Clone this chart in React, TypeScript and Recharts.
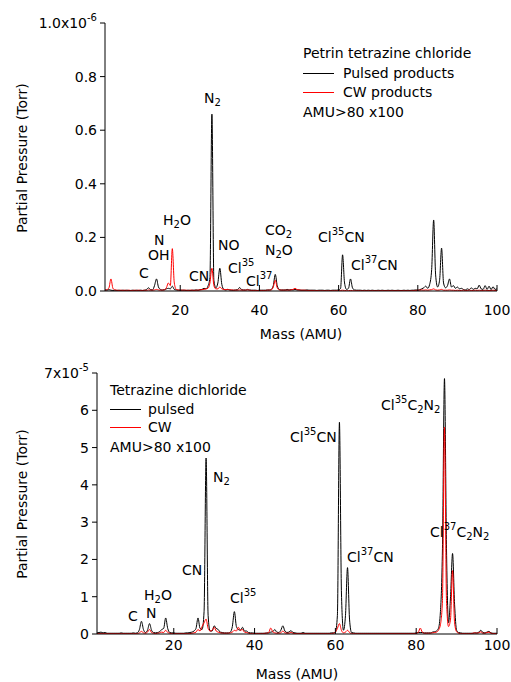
import React from "react";
import { Line, LineChart, XAxis, YAxis } from "recharts";

// mass grid, 0.5 AMU steps
const masses = [
  1, 1.5, 2, 2.5, 3, 3.5, 4, 4.5, 5, 5.5,
  6, 6.5, 7, 7.5, 8, 8.5, 9, 9.5, 10, 10.5,
  11, 11.5, 12, 12.5, 13, 13.5, 14, 14.5, 15, 15.5,
  16, 16.5, 17, 17.5, 18, 18.5, 19, 19.5, 20, 20.5,
  21, 21.5, 22, 22.5, 23, 23.5, 24, 24.5, 25, 25.5,
  26, 26.5, 27, 27.5, 28, 28.5, 29, 29.5, 30, 30.5,
  31, 31.5, 32, 32.5, 33, 33.5, 34, 34.5, 35, 35.5,
  36, 36.5, 37, 37.5, 38, 38.5, 39, 39.5, 40, 40.5,
  41, 41.5, 42, 42.5, 43, 43.5, 44, 44.5, 45, 45.5,
  46, 46.5, 47, 47.5, 48, 48.5, 49, 49.5, 50, 50.5,
  51, 51.5, 52, 52.5, 53, 53.5, 54, 54.5, 55, 55.5,
  56, 56.5, 57, 57.5, 58, 58.5, 59, 59.5, 60, 60.5,
  61, 61.5, 62, 62.5, 63, 63.5, 64, 64.5, 65, 65.5,
  66, 66.5, 67, 67.5, 68, 68.5, 69, 69.5, 70, 70.5,
  71, 71.5, 72, 72.5, 73, 73.5, 74, 74.5, 75, 75.5,
  76, 76.5, 77, 77.5, 78, 78.5, 79, 79.5, 80, 80.5,
  81, 81.5, 82, 82.5, 83, 83.5, 84, 84.5, 85, 85.5,
  86, 86.5, 87, 87.5, 88, 88.5, 89, 89.5, 90, 90.5,
  91, 91.5, 92, 92.5, 93, 93.5, 94, 94.5, 95, 95.5,
  96, 96.5, 97, 97.5, 98, 98.5, 99, 99.5, 100,
];

// Petrin tetrazine chloride, units of 1e-6 Torr
const petrinPulsed = [
  0.004, 0.003, 0.005, 0.003, 0.002, 0.003, 0.002, 0.003, 0.002, 0.003,
  0.002, 0.003, 0.002, 0.002, 0.003, 0.002, 0.003, 0.002, 0.003, 0.002,
  0.003, 0.006, 0.012, 0.005, 0.004, 0.02, 0.045, 0.015, 0.006, 0.004,
  0.005, 0.008, 0.01, 0.008, 0.018, 0.006, 0.004, 0.003, 0.003, 0.003,
  0.003, 0.002, 0.003, 0.002, 0.003, 0.003, 0.004, 0.003, 0.005, 0.006,
  0.01, 0.008, 0.018, 0.05, 0.66, 0.04, 0.012, 0.03, 0.085, 0.025,
  0.006, 0.004, 0.006, 0.004, 0.003, 0.003, 0.004, 0.005, 0.013, 0.005,
  0.004, 0.004, 0.006, 0.004, 0.003, 0.003, 0.003, 0.002, 0.003, 0.003,
  0.003, 0.003, 0.004, 0.004, 0.006, 0.02, 0.062, 0.02, 0.006, 0.004,
  0.004, 0.004, 0.006, 0.004, 0.005, 0.004, 0.006, 0.004, 0.004, 0.003,
  0.003, 0.003, 0.004, 0.003, 0.003, 0.003, 0.003, 0.002, 0.003, 0.003,
  0.003, 0.002, 0.003, 0.003, 0.002, 0.003, 0.003, 0.003, 0.004, 0.01,
  0.135, 0.03, 0.006, 0.01, 0.045, 0.012, 0.004, 0.003, 0.003, 0.003,
  0.002, 0.003, 0.002, 0.003, 0.002, 0.003, 0.002, 0.002, 0.003, 0.002,
  0.003, 0.002, 0.002, 0.003, 0.002, 0.003, 0.002, 0.002, 0.003, 0.002,
  0.002, 0.003, 0.002, 0.003, 0.002, 0.003, 0.003, 0.004, 0.003, 0.005,
  0.008, 0.012, 0.018, 0.01, 0.025, 0.08, 0.265, 0.06, 0.015, 0.04,
  0.16, 0.03, 0.012, 0.02, 0.045, 0.015, 0.02, 0.01, 0.015, 0.008,
  0.01, 0.006, 0.004, 0.008, 0.005, 0.012, 0.006, 0.01, 0.008, 0.022,
  0.008, 0.006, 0.02, 0.006, 0.018, 0.005, 0.016, 0.006, 0.008,
];

const petrinCw = [
  0.003, 0.005, 0.012, 0.045, 0.01, 0.004, 0.003, 0.002, 0.003, 0.002,
  0.003, 0.002, 0.003, 0.002, 0.002, 0.003, 0.002, 0.003, 0.002, 0.002,
  0.003, 0.002, 0.004, 0.003, 0.003, 0.004, 0.006, 0.004, 0.003, 0.003,
  0.004, 0.012, 0.03, 0.02, 0.158, 0.03, 0.006, 0.004, 0.003, 0.003,
  0.003, 0.003, 0.002, 0.003, 0.003, 0.002, 0.003, 0.003, 0.004, 0.005,
  0.006, 0.008, 0.01, 0.03, 0.085, 0.02, 0.008, 0.008, 0.015, 0.008,
  0.006, 0.005, 0.006, 0.004, 0.004, 0.003, 0.003, 0.003, 0.004, 0.003,
  0.003, 0.003, 0.004, 0.003, 0.002, 0.002, 0.002, 0.002, 0.002, 0.002,
  0.002, 0.002, 0.003, 0.003, 0.004, 0.015, 0.04, 0.012, 0.004, 0.003,
  0.003, 0.003, 0.003, 0.003, 0.004, 0.006, 0.01, 0.005, 0.004, 0.003,
  0.003, 0.003, 0.002, 0.002, 0.002, 0.002, 0.001, 0.002, 0.001, 0.001,
  0.001, 0.001, 0.001, 0.001, 0.001, 0.001, 0.001, 0.001, 0.001, 0.002,
  0.003, 0.002, 0.001, 0.001, 0.002, 0.001, 0.001, 0.001, 0.001, 0.001,
  0.001, 0.001, 0.001, 0.001, 0.001, 0.001, 0.001, 0.001, 0.001, 0.001,
  0.001, 0.001, 0.001, 0.001, 0.001, 0.001, 0.001, 0.001, 0.001, 0.001,
  0.001, 0.001, 0.001, 0.001, 0.001, 0.001, 0.002, 0.002, 0.003, 0.003,
  0.004, 0.003, 0.004, 0.003, 0.004, 0.005, 0.008, 0.004, 0.003, 0.004,
  0.006, 0.003, 0.003, 0.003, 0.004, 0.003, 0.003, 0.002, 0.003, 0.002,
  0.002, 0.003, 0.002, 0.002, 0.003, 0.002, 0.002, 0.003, 0.002, 0.003,
  0.002, 0.002, 0.003, 0.002, 0.002, 0.002, 0.003, 0.002, 0.002,
];

// Tetrazine dichloride, units of 1e-5 Torr
const dichloridePulsed = [
  0.03, 0.04, 0.05, 0.03, 0.04, 0.02, 0.02, 0.02, 0.02, 0.02,
  0.02, 0.02, 0.03, 0.02, 0.02, 0.02, 0.02, 0.02, 0.03, 0.02,
  0.03, 0.12, 0.34, 0.12, 0.04, 0.1, 0.28, 0.1, 0.04, 0.03,
  0.04, 0.06, 0.12, 0.15, 0.43, 0.15, 0.04, 0.03, 0.03, 0.02,
  0.02, 0.02, 0.02, 0.02, 0.03, 0.03, 0.04, 0.05, 0.08, 0.15,
  0.43, 0.15, 0.12, 0.6, 4.72, 0.5, 0.08, 0.08, 0.22, 0.15,
  0.12, 0.05, 0.04, 0.03, 0.03, 0.03, 0.05, 0.2, 0.6, 0.2,
  0.12, 0.1, 0.18, 0.08, 0.08, 0.04, 0.03, 0.03, 0.02, 0.02,
  0.02, 0.02, 0.02, 0.02, 0.03, 0.03, 0.05, 0.06, 0.12, 0.05,
  0.04, 0.1, 0.22, 0.08, 0.04, 0.05, 0.09, 0.04, 0.03, 0.02,
  0.02, 0.02, 0.04, 0.02, 0.02, 0.02, 0.02, 0.02, 0.02, 0.02,
  0.02, 0.02, 0.02, 0.02, 0.02, 0.02, 0.03, 0.03, 0.05, 0.5,
  5.68, 1.1, 0.1, 0.5, 1.78, 0.4, 0.04, 0.03, 0.02, 0.02,
  0.02, 0.02, 0.02, 0.02, 0.02, 0.02, 0.02, 0.02, 0.02, 0.02,
  0.02, 0.02, 0.02, 0.02, 0.02, 0.02, 0.02, 0.02, 0.02, 0.02,
  0.02, 0.02, 0.02, 0.02, 0.02, 0.02, 0.02, 0.02, 0.03, 0.04,
  0.04, 0.04, 0.03, 0.03, 0.03, 0.03, 0.05, 0.06, 0.08, 0.15,
  0.6, 2.3, 6.85, 2.3, 0.3, 1.0, 2.16, 0.8, 0.1, 0.04,
  0.03, 0.02, 0.02, 0.02, 0.02, 0.02, 0.02, 0.03, 0.03, 0.05,
  0.1, 0.04, 0.03, 0.05, 0.07, 0.03, 0.02, 0.02, 0.02,
];

const dichlorideCw = [
  0.01, 0.01, 0.01, 0.01, 0.01, 0.01, 0.01, 0.01, 0.01, 0.01,
  0.01, 0.01, 0.01, 0.01, 0.01, 0.01, 0.01, 0.01, 0.01, 0.01,
  0.01, 0.03, 0.07, 0.03, 0.02, 0.05, 0.12, 0.04, 0.02, 0.01,
  0.02, 0.03, 0.05, 0.04, 0.1, 0.04, 0.02, 0.01, 0.01, 0.01,
  0.01, 0.01, 0.01, 0.01, 0.01, 0.01, 0.01, 0.02, 0.03, 0.05,
  0.12, 0.08, 0.2, 0.3, 0.4, 0.15, 0.08, 0.1, 0.18, 0.08,
  0.05, 0.03, 0.02, 0.02, 0.02, 0.02, 0.03, 0.05, 0.1, 0.08,
  0.18, 0.1, 0.12, 0.05, 0.04, 0.02, 0.01, 0.01, 0.01, 0.01,
  0.01, 0.01, 0.01, 0.02, 0.02, 0.04, 0.16, 0.06, 0.03, 0.02,
  0.02, 0.03, 0.08, 0.03, 0.02, 0.02, 0.04, 0.02, 0.01, 0.01,
  0.01, 0.01, 0.01, 0.01, 0.01, 0.01, 0.01, 0.01, 0.01, 0.01,
  0.01, 0.01, 0.01, 0.01, 0.01, 0.01, 0.01, 0.02, 0.05, 0.15,
  0.28, 0.1, 0.03, 0.05, 0.1, 0.04, 0.01, 0.01, 0.01, 0.01,
  0.01, 0.01, 0.01, 0.01, 0.01, 0.01, 0.01, 0.01, 0.01, 0.01,
  0.01, 0.01, 0.01, 0.01, 0.01, 0.01, 0.01, 0.01, 0.01, 0.01,
  0.01, 0.01, 0.01, 0.01, 0.01, 0.01, 0.01, 0.01, 0.02, 0.04,
  0.16, 0.05, 0.02, 0.02, 0.02, 0.02, 0.03, 0.04, 0.05, 0.1,
  0.25, 0.9, 5.55, 0.9, 0.2, 0.4, 1.7, 0.3, 0.06, 0.02,
  0.01, 0.01, 0.01, 0.01, 0.01, 0.01, 0.02, 0.03, 0.02, 0.03,
  0.06, 0.02, 0.02, 0.04, 0.05, 0.02, 0.01, 0.01, 0.01,
];

const massTicks = [20, 40, 60, 80, 100];
const petrinTicks = [0, 0.2, 0.4, 0.6, 0.8, 1.0];
const dichlorideTicks = [0, 1, 2, 3, 4, 5, 6, 7];

const FONT = "'DejaVu Sans', Verdana, sans-serif";

const toRows = (pulsed: number[], cw: number[]) =>
  masses.map((m, i) => ({ m, pulsed: pulsed[i], cw: cw[i] }));

const YTick = ({ x, y, payload, fmt }: any) => {
  const [base, exp] = fmt(payload.value);
  return (
    <text x={x} y={y} dy={5} textAnchor="end" fontSize={14} fill="#000">
      {base}
      {exp && (
        <tspan dy={-7} fontSize={10}>
          {exp}
        </tspan>
      )}
    </text>
  );
};

const Sub = ({ children }: any) => (
  <span style={{ fontSize: 10, position: "relative", top: 3 }}>{children}</span>
);
const Sup = ({ children }: any) => (
  <span style={{ fontSize: 10, position: "relative", top: -7 }}>{children}</span>
);

const Txt = ({ x, y, children }: any) => (
  <div style={{ position: "absolute", left: x, top: y - 8, fontSize: 14, lineHeight: "16px", whiteSpace: "nowrap" }}>
    {children}
  </div>
);

const Key = ({ x, y, color }: any) => (
  <div style={{ position: "absolute", left: x, top: y, width: 31, height: 1, background: color }} />
);

function Spectrum({ top, height, data, yDomain, yTicks, fmt, marginTop, yWidth, xHeight, xTickMargin }: any) {
  return (
    <div style={{ position: "absolute", left: 0, top }}>
      <LineChart
        width={511}
        height={height}
        data={data}
        margin={{ top: marginTop, right: 14, bottom: 0, left: 0 }}
      >
        <XAxis
          dataKey="m"
          type="number"
          domain={[1, 100]}
          ticks={massTicks}
          allowDataOverflow
          height={xHeight}
          stroke="#000"
          tickSize={-6}
          tickMargin={xTickMargin}
          tick={{ fill: "#000", fontSize: 14 }}
        />
        <XAxis
          xAxisId="top"
          orientation="top"
          type="number"
          domain={[1, 100]}
          ticks={massTicks}
          allowDataOverflow
          height={0}
          stroke="#000"
          tickSize={4}
          tick={false}
        />
        <YAxis
          type="number"
          domain={yDomain}
          ticks={yTicks}
          allowDataOverflow
          width={yWidth}
          stroke="#000"
          tickSize={5}
          tickMargin={3}
          tick={(p: any) => <YTick {...p} fmt={fmt} />}
        />
        <YAxis
          yAxisId="right"
          orientation="right"
          type="number"
          domain={yDomain}
          ticks={yTicks}
          allowDataOverflow
          width={0}
          stroke="#000"
          tickSize={-7}
          tick={false}
        />
        <Line type="monotone" dataKey="pulsed" stroke="#000" strokeWidth={1} dot={false} isAnimationActive={false} />
        <Line type="monotone" dataKey="cw" stroke="#ff0000" strokeWidth={1} dot={false} isAnimationActive={false} />
      </LineChart>
    </div>
  );
}

const yLabelStyle = (cy: number): React.CSSProperties => ({
  position: "absolute",
  left: 22,
  top: cy,
  fontSize: 14,
  whiteSpace: "nowrap",
  transform: "translate(-50%, -50%) rotate(-90deg)",
});

export default function App() {
  return (
    <div
      style={{
        position: "absolute",
        left: 0,
        top: 0,
        width: 511,
        height: 682,
        background: "#fff",
        fontFamily: FONT,
        color: "#000",
        overflow: "hidden",
      }}
    >
      <Spectrum
        top={0}
        height={340}
        data={toRows(petrinPulsed, petrinCw)}
        yDomain={[0, 1]}
        yTicks={petrinTicks}
        fmt={(v: number) => (v === 1 ? ["1.0x10", "-6"] : [v.toFixed(1), null])}
        marginTop={23}
        yWidth={105}
        xHeight={49}
        xTickMargin={20}
      />
      <Spectrum
        top={340}
        height={342}
        data={toRows(dichloridePulsed, dichlorideCw)}
        yDomain={[0, 7]}
        yTicks={dichlorideTicks}
        fmt={(v: number) => (v === 7 ? ["7x10", "-5"] : [String(v), null])}
        marginTop={33}
        yWidth={97}
        xHeight={48}
        xTickMargin={12}
      />

      {/* axis titles */}
      <div style={yLabelStyle(158)}>Partial Pressure (Torr)</div>
      <div style={yLabelStyle(504)}>Partial Pressure (Torr)</div>
      <div style={{ position: "absolute", left: 301, top: 334, fontSize: 14, transform: "translate(-50%, -50%)", whiteSpace: "nowrap" }}>Mass (AMU)</div>
      <div style={{ position: "absolute", left: 297, top: 674, fontSize: 14, transform: "translate(-50%, -50%)", whiteSpace: "nowrap" }}>Mass (AMU)</div>

      {/* top legend */}
      <Txt x={303} y={53}>Petrin tetrazine chloride</Txt>
      <Key x={303} y={73} color="#000" />
      <Txt x={343} y={73}>Pulsed products</Txt>
      <Key x={303} y={92} color="#ff0000" />
      <Txt x={343} y={92}>CW products</Txt>
      <Txt x={303} y={112}>AMU&gt;80 x100</Txt>

      {/* top peak labels */}
      <Txt x={204} y={98}>N<Sub>2</Sub></Txt>
      <Txt x={163} y={220}>H<Sub>2</Sub>O</Txt>
      <Txt x={154} y={240}>N</Txt>
      <Txt x={139} y={273}>C</Txt>
      <Txt x={148} y={255}>OH</Txt>
      <Txt x={189} y={276}>CN</Txt>
      <Txt x={218} y={245}>NO</Txt>
      <Txt x={228} y={268}>Cl<Sup>35</Sup></Txt>
      <Txt x={246} y={281}>Cl<Sup>37</Sup></Txt>
      <Txt x={265} y={230}>CO<Sub>2</Sub></Txt>
      <Txt x={265} y={250}>N<Sub>2</Sub>O</Txt>
      <Txt x={318} y={237}>Cl<Sup>35</Sup>CN</Txt>
      <Txt x={351} y={265}>Cl<Sup>37</Sup>CN</Txt>

      {/* bottom legend */}
      <Txt x={110} y={390}>Tetrazine dichloride</Txt>
      <Key x={110} y={409} color="#000" />
      <Txt x={148} y={409}>pulsed</Txt>
      <Key x={110} y={427} color="#ff0000" />
      <Txt x={148} y={427}>CW</Txt>
      <Txt x={110} y={447}>AMU&gt;80 x100</Txt>

      {/* bottom peak labels */}
      <Txt x={213} y={477}>N<Sub>2</Sub></Txt>
      <Txt x={182} y={570}>CN</Txt>
      <Txt x={144} y={595}>H<Sub>2</Sub>O</Txt>
      <Txt x={146} y={613}>N</Txt>
      <Txt x={128} y={616}>C</Txt>
      <Txt x={230} y={598}>Cl<Sup>35</Sup></Txt>
      <Txt x={290} y={437}>Cl<Sup>35</Sup>CN</Txt>
      <Txt x={347} y={557}>Cl<Sup>37</Sup>CN</Txt>
      <Txt x={381} y={405}>Cl<Sup>35</Sup>C<Sub>2</Sub>N<Sub>2</Sub></Txt>
      <Txt x={430} y={532}>Cl<Sup>37</Sup>C<Sub>2</Sub>N<Sub>2</Sub></Txt>
    </div>
  );
}
